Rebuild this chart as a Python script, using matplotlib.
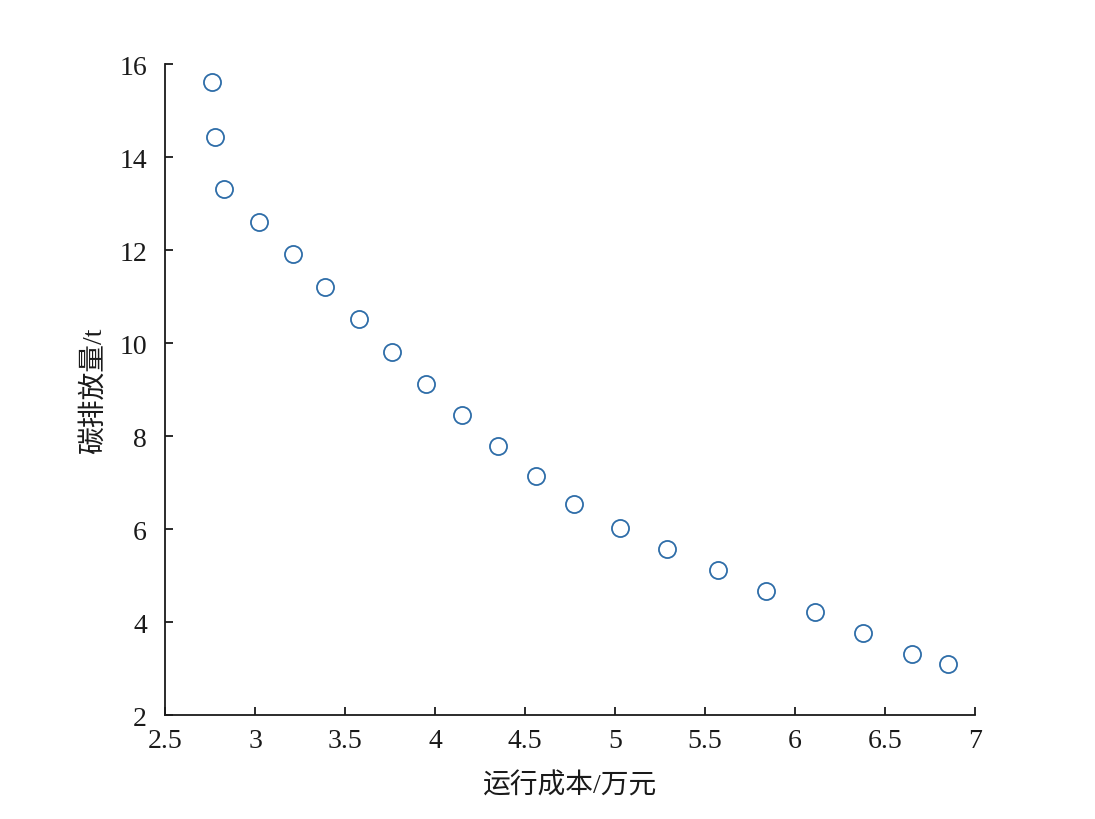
import numpy as np
import matplotlib
matplotlib.use("Agg")
import matplotlib.pyplot as plt

plt.rcParams['font.family'] = ['Liberation Serif', 'Noto Sans CJK SC']

# operating cost (10k yuan) vs carbon emission (t)
cost = [2.76, 2.78, 2.83, 3.02, 3.21, 3.39, 3.58, 3.76, 3.95, 4.15, 4.35,
        4.56, 4.77, 5.03, 5.29, 5.57, 5.84, 6.11, 6.38, 6.65, 6.85]
emission = [15.62, 14.42, 13.32, 12.61, 11.92, 11.21, 10.51, 9.81, 9.12, 8.45, 7.79,
            7.14, 6.54, 6.03, 5.57, 5.12, 4.67, 4.22, 3.77, 3.31, 3.10]

xticks = [2.5, 3, 3.5, 4, 4.5, 5, 5.5, 6, 6.5, 7]
xticklabels = ['2.5', '3', '3.5', '4', '4.5', '5', '5.5', '6', '6.5', '7']
yticks = [2, 4, 6, 8, 10, 12, 14, 16]

fig = plt.figure(figsize=(10.95, 8.2), dpi=100)
ax = fig.add_axes([0.1507, 0.1268, 0.7397, 0.7939])

ax.plot(cost, emission, 'o', linestyle='none', markersize=12.3,
        markerfacecolor='none', markeredgecolor='#2e6da8', markeredgewidth=1.3)

ax.set_xlim(2.5, 7)
ax.set_ylim(2, 16)
ax.set_xticks(xticks)
ax.set_xticklabels(xticklabels)
ax.set_yticks(yticks)

for s in ['top', 'right']:
    ax.spines[s].set_visible(False)
for s in ['left', 'bottom']:
    ax.spines[s].set_color('#1a1a1a')
    ax.spines[s].set_linewidth(1.3)

ax.tick_params(direction='in', length=6, width=1.3, color='#1a1a1a',
               labelsize=20, labelcolor='#1a1a1a')
ax.tick_params(axis='y', pad=13)
ax.tick_params(axis='x', pad=9)

ax.set_xlabel('运行成本/万元', fontsize=20, color='#1a1a1a', labelpad=14)
ax.set_ylabel('碳排放量/t', fontsize=20, color='#1a1a1a', labelpad=8)

fig.savefig('out.png', dpi=100)
